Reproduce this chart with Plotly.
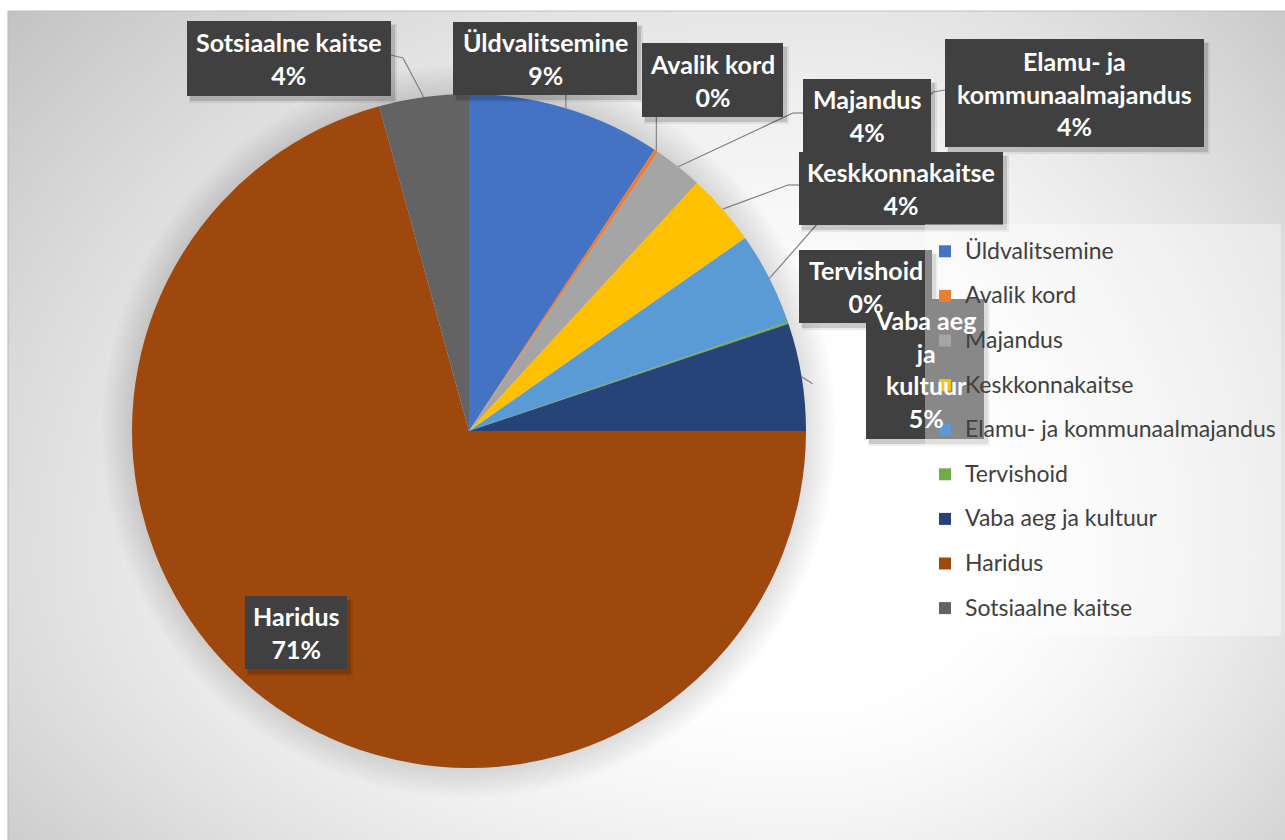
import base64
import struct
import zlib
import math

import numpy as np
import plotly.graph_objects as go

# ---------------- data ----------------
categories = [
    "Üldvalitsemine",
    "Avalik kord",
    "Majandus",
    "Keskkonnakaitse",
    "Elamu- ja kommunaalmajandus",
    "Tervishoid",
    "Vaba aeg ja kultuur",
    "Haridus",
    "Sotsiaalne kaitse",
]
values = [9.28, 0.2, 2.35, 3.46, 4.46, 0.1, 5.15, 70.7, 4.3]
pct_labels = ["9%", "0%", "4%", "4%", "4%", "0%", "5%", "71%", "4%"]
label_names = [
    "Üldvalitsemine",
    "Avalik kord",
    "Majandus",
    "Keskkonnakaitse",
    "Elamu- ja<br>kommunaalmajandus",
    "Tervishoid",
    "Vaba aeg<br>ja<br>kultuur",
    "Haridus",
    "Sotsiaalne kaitse",
]
colors = ["#4472C4", "#ED7D31", "#A5A5A5", "#FFC000", "#5B9BD5",
          "#70AD47", "#264478", "#9E480E", "#636363"]

# ---------------- layout geometry (px) ----------------
W, H = 1285, 840
CX, CY, R = 469, 431, 337


def px(x):
    return x / W


def py(y):
    return 1 - y / H


# label boxes: center x, center y, width, height (px)
label_boxes = {
    "Sotsiaalne kaitse": (289, 58.5, 204, 75),
    "Üldvalitsemine": (545, 58.5, 184, 73),
    "Avalik kord": (712.5, 80, 141, 74),
    "Majandus": (867, 115.5, 128, 73),
    "Elamu- ja kommunaalmajandus": (1074.5, 93, 259, 108),
    "Keskkonnakaitse": (901, 188.5, 204, 73),
    "Tervishoid": (865.5, 286.5, 133, 73),
    "Vaba aeg ja kultuur": (925, 369, 118, 140),
    "Haridus": (296, 632.5, 102, 73),
}
label_order = ["Sotsiaalne kaitse", "Üldvalitsemine", "Avalik kord", "Majandus",
               "Elamu- ja kommunaalmajandus", "Keskkonnakaitse", "Tervishoid",
               "Vaba aeg ja kultuur", "Haridus"]

# ---------------- background gradient image ----------------
def png_gray(arr):
    h, w = arr.shape
    raw = b"".join(b"\x00" + arr[i].tobytes() for i in range(h))

    def chunk(t, d):
        c = struct.pack(">I", len(d)) + t + d
        return c + struct.pack(">I", zlib.crc32(t + d) & 0xFFFFFFFF)

    return (b"\x89PNG\r\n\x1a\n"
            + chunk(b"IHDR", struct.pack(">IIBBBBB", w, h, 8, 0, 0, 0, 0))
            + chunk(b"IDAT", zlib.compress(raw, 9))
            + chunk(b"IEND", b""))


AX0, AY0, AX1, AY1 = 8, 11, 1285, 840
gw, gh = 640, 416
xs = np.linspace(AX0, AX1, gw)
ys = np.linspace(AY0, AY1, gh)
XX, YY = np.meshgrid(xs, ys)
fx, fy = 800.0, 560.0
dx = XX - fx
dy = YY - fy
sx = np.where(dx < 0, 820.0, 560.0)
sy = np.where(dy < 0, 660.0, 440.0)
t = np.sqrt((dx / sx) ** 2 + (dy / sy) ** 2)
g = 255 - 62 * np.clip((t - 0.3) / 1.0, 0, 1) ** 1.5
img = np.clip(g, 0, 255).astype(np.uint8)
img_uri = "data:image/png;base64," + base64.b64encode(png_gray(img)).decode()

# ---------------- figure ----------------
legend_labels = [
    f'<span style="font-size:23px;baseline-shift:5px">{c}</span>' for c in categories
]

fig = go.Figure()
fig.add_trace(go.Pie(
    labels=legend_labels,
    values=values,
    sort=False,
    direction="clockwise",
    rotation=0,
    marker=dict(colors=colors, line=dict(width=0)),
    textinfo="none",
    hoverinfo="label+percent",
    domain=dict(x=[px(CX - R), px(CX + R)], y=[py(CY + R), py(CY - R)]),
    showlegend=True,
))

shapes = []
# chart area border
shapes.append(dict(type="rect", xref="paper", yref="paper",
                   x0=px(AX0), x1=px(AX1 + 10), y0=py(AY1 + 10), y1=py(AY0),
                   line=dict(color="#bfbfbf", width=1.2), fillcolor="rgba(0,0,0,0)",
                   layer="below"))
# soft shadow around the pie
for k in range(1, 11):
    rr = R + 3 * k
    shapes.append(dict(type="circle", xref="paper", yref="paper",
                       x0=px(CX - rr), x1=px(CX + rr), y0=py(CY + rr), y1=py(CY - rr),
                       fillcolor="rgba(0,0,0,0.011)", line=dict(width=0), layer="below"))

# anchor points on the pie edge at each slice's mid-angle (from the data)
total = sum(values)
cum = 0.0
anchor = {}
for c, v in zip(categories, values):
    mid = (cum + v / 2) / total * 2 * math.pi
    anchor[c] = (CX + R * math.sin(mid), CY - R * math.cos(mid))
    cum += v

leader_color = "#808080"


def seg(p, q):
    shapes.append(dict(type="line", xref="paper", yref="paper",
                       x0=px(p[0]), y0=py(p[1]), x1=px(q[0]), y1=py(q[1]),
                       line=dict(color=leader_color, width=1.2), layer="above"))


def box_edges(name):
    cx, cy, w, h = label_boxes[name]
    return cx - w / 2, cx + w / 2, cy - h / 2, cy + h / 2


# leader lines
a = anchor["Sotsiaalne kaitse"]
l, r, tp, b = box_edges("Sotsiaalne kaitse")
seg(a, (r + 12, 58)); seg((r + 12, 58), (r, 55))
a = anchor["Üldvalitsemine"]
l, r, tp, b = box_edges("Üldvalitsemine")
seg(a, (a[0], b))
a = anchor["Avalik kord"]
l, r, tp, b = box_edges("Avalik kord")
seg(a, (a[0], b))
a = anchor["Majandus"]
l, r, tp, b = box_edges("Majandus")
seg(a, (l - 10, 113)); seg((l - 10, 113), (l, 113))
a = anchor["Elamu- ja kommunaalmajandus"]
l, r, tp, b = box_edges("Elamu- ja kommunaalmajandus")
seg(a, (l - 12, 92)); seg((l - 12, 92), (l, 90))
a = anchor["Keskkonnakaitse"]
l, r, tp, b = box_edges("Keskkonnakaitse")
seg(a, (l - 11, 185)); seg((l - 11, 185), (l, 185))
a = anchor["Vaba aeg ja kultuur"]
seg(a, (a[0] + 11, a[1] + 7))

# label boxes (shapes so that the legend draws over them) + shadows
annotations = []
for name in label_order:
    l, r, tp, b = box_edges(name)
    shapes.append(dict(type="rect", xref="paper", yref="paper",
                       x0=px(l + 2), x1=px(r + 6), y0=py(b + 7), y1=py(tp + 3),
                       fillcolor="rgba(0,0,0,0.07)", line=dict(width=0), layer="above"))
    shapes.append(dict(type="rect", xref="paper", yref="paper",
                       x0=px(l + 3), x1=px(r + 4), y0=py(b + 5), y1=py(tp + 4),
                       fillcolor="rgba(0,0,0,0.14)", line=dict(width=0), layer="above"))
for name in label_order:
    l, r, tp, b = box_edges(name)
    shapes.append(dict(type="rect", xref="paper", yref="paper",
                       x0=px(l), x1=px(r), y0=py(b), y1=py(tp),
                       fillcolor="#404040", line=dict(width=0), layer="above"))
    i = categories.index(name)
    cx, cy, w, h = label_boxes[name]
    annotations.append(dict(
        x=px(cx), y=py(cy), xref="paper", yref="paper", xanchor="center", yanchor="middle",
        text=f"<b>{label_names[i]}<br>{pct_labels[i]}</b>", showarrow=False,
        font=dict(family="Lato", size=25, color="white"), align="center"))

fig.update_layout(
    width=W, height=H,
    margin=dict(l=0, r=0, t=0, b=0),
    paper_bgcolor="white",
    plot_bgcolor="white",
    font=dict(family="Lato", color="#404040"),
    images=[dict(source=img_uri, xref="paper", yref="paper",
                 x=px(AX0), y=py(AY0), sizex=(AX1 - AX0) / W, sizey=(AY1 - AY0) / H,
                 xanchor="left", yanchor="top", sizing="stretch", layer="below")],
    shapes=shapes,
    annotations=annotations,
    legend=dict(
        x=px(925), y=py(224), xanchor="left", yanchor="top",
        bgcolor="rgba(255,255,255,0.38)", borderwidth=0,
        font=dict(family="Lato", size=32, color="#404040"),
        itemclick=False, itemdoubleclick=False,
    ),
)

fig.write_html("out.html", config={"displayModeBar": False},
               post_script="document.body.style.margin='0px';")
